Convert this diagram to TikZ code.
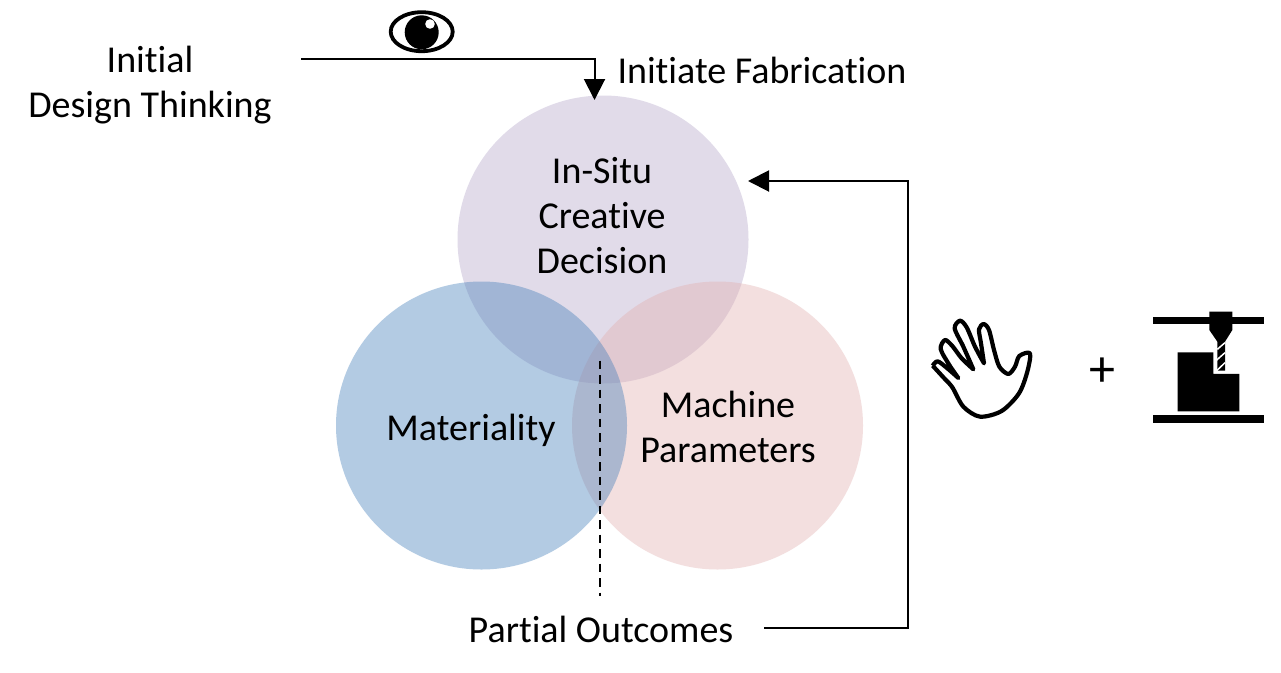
\documentclass[tikz,border=0pt]{standalone}
\usepackage{fontspec}
\setmainfont[Ligatures=NoCommon]{Carlito}
\usetikzlibrary{arrows.meta,shapes.geometric}
\definecolor{cpurple}{HTML}{B4A5CA}
\definecolor{cblue}{HTML}{417DB9}
\definecolor{cpink}{HTML}{E1AFAF}
\tikzset{
  x=1pt,y=-1pt,
  venn/.style={ellipse,minimum width=291pt,minimum height=288pt,inner sep=0pt,fill opacity=0.4,text opacity=1},
  lab/.style={font=\fontsize{38}{45}\selectfont,align=center,text=black,inner sep=0pt},
  conn/.style={line width=2pt,black},
  tip/.style={-{Triangle[length=21pt,width=21pt]}}
}
\begin{document}
\begin{tikzpicture}
\useasboundingbox (0,0) rectangle (1281,672);
\fill[white] (0,0) rectangle (1281,672);
% venn
\node[venn,fill=cpurple] (top) at (603,239.5) {};
\node[venn,fill=cpink] (mac) at (717.5,425.5) {};
\node[venn,fill=cblue] (mat) at (481.5,425.5) {};
% labels
\node[lab] (tdes) at (602,216) {In-Situ\\Creative\\Decision};
\node[lab] (tmat) at (471,430) {Materiality};
\node[lab] (tmac) at (728,427) {Machine\\Parameters};
\node[lab] (tini) at (150,85) {Initial\\Design Thinking};
\node[lab] (tfab) at (762,70) {Initiate Fabrication};
\node[lab] (tpar) at (601,629) {Partial Outcomes};
\node[lab,font=\fontsize{52}{52}\selectfont] (tplus) at (1102,372) {+};
% connectors
\coordinate (s1) at (301,58.5);
\coordinate (k1) at (594.5,58.5);
\coordinate (s2) at (764,628);
\coordinate (k2) at (908,628);
\coordinate (k3) at (908,181);
\coordinate (e2) at (748,181);
\coordinate (e1) at (594.5,100);
\draw[conn,tip] (s1) -- (k1) -- (e1);
\draw[conn,tip] (s2) -- (k2) -- (k3) -- (e2);
\coordinate (d1) at (600,360.5);
\coordinate (d2) at (600,596);
\draw[line width=2pt,black,dash pattern=on 8.5pt off 6pt] (d1) -- (d2);
% eye
\draw[line width=3.8pt,black] (421.7,31.7) ellipse (31 and 19.5);
\fill[black] (421.7,32.3) circle (17);
\fill[white] (430,24) circle (4.8);
% hand
\begin{scope}[shift={(920,300)},x=0.3333pt,y=-0.3333pt]
\draw[line width=4.2pt,black,fill=white,line join=round]
 plot[smooth,tension=0.5] coordinates {(38,197) (53,184) (82,205) (115,234)}
 -- plot[smooth,tension=0.5] coordinates {(115,234) (88,195) (62,147) (75,120) (97,138) (125,175) (160,208)}
 -- plot[smooth,tension=0.5] coordinates {(160,208) (130,140) (104,85) (120,62) (140,82) (165,140) (192,190)}
 -- plot[smooth,tension=0.5] coordinates {(192,190) (183,130) (177,88) (191,72) (207,90) (222,150) (238,200) (265,222) (285,200) (298,168) (330,160) (322,215) (297,280) (245,333) (180,350) (130,320) (97,262) (70,232) (38,197)};
\end{scope}
% machine
\begin{scope}[shift={(1140,300)},x=0.3333pt,y=-0.3333pt]
\fill[black] (38,50) rectangle (373,72);
\fill[black] (38,346) rectangle (373,368);
\fill[black] (113,157) -- (220,157) -- (220,222) -- (298,222) -- (298,334) -- (113,334) -- cycle;
\fill[black] (208,35) -- (277,35) -- (277,90) -- (255,125) -- (255,212) -- (232,212) -- (232,125) -- (208,90) -- cycle;
\draw[white,line width=1.5pt] (232,148) -- (255,128);
\draw[white,line width=1.5pt] (228,182) -- (255,158);
\draw[white,line width=1.5pt] (228,214) -- (255,188);
\end{scope}
\end{tikzpicture}
\end{document}
